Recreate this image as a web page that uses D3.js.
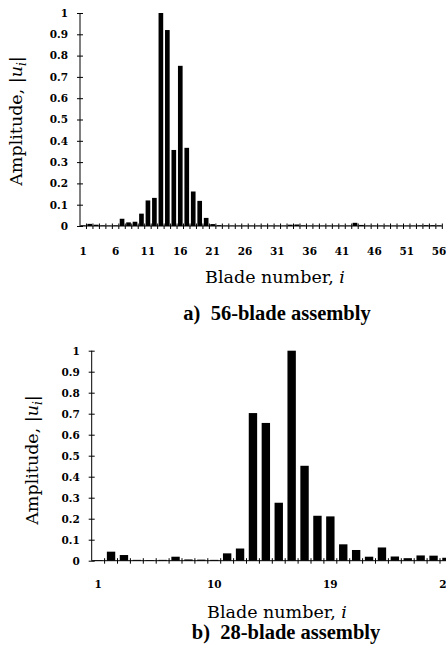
<!DOCTYPE html>
<html><head><meta charset="utf-8">
<script src="https://d3js.org/d3.v7.min.js"></script>
<style>
html,body{margin:0;padding:0;background:#fff;}
svg{display:block;}
.tick text{font-family:"DejaVu Serif",serif;font-weight:bold;font-size:10.5px;fill:#000;}
.ttl{font-family:"DejaVu Serif",serif;font-size:17.5px;fill:#000;}
.cap{font-family:"Liberation Serif","Times New Roman",serif;font-weight:bold;font-size:20.5px;fill:#000;}
</style></head>
<body>
<script>
// ---- data ----
const blades56 = d3.range(1, 57);
const amp56 = [0.003,0.010,0.006,0.003,0.002,0.003,0.034,0.017,0.020,0.058,
  0.120,0.132,1.000,0.920,0.357,0.752,0.367,0.162,0.118,0.038,
  0.009,0.004,0.002,0.002,0.002,0.002,0.002,0.002,0.002,0.002,
  0.002,0.002,0.006,0.007,0.003,0.002,0.002,0.002,0.002,0.002,
  0.002,0.002,0.015,0.005,0.002,0.002,0.002,0.002,0.002,0.002,
  0.002,0.002,0.003,0.004,0.004,0.003];
const xLabels56 = [1,6,11,16,21,26,31,36,41,46,51,56];

const blades28 = d3.range(1, 29);
const amp28 = [0.003,0.043,0.027,0.004,0.003,0.004,0.019,0.006,0.005,0.004,
  0.035,0.058,0.703,0.656,0.276,1.000,0.452,0.214,0.211,0.078,
  0.051,0.019,0.063,0.020,0.012,0.025,0.024,0.014];
const xLabels28 = [1,10,19,28];

const yTicks = [0,0.1,0.2,0.3,0.4,0.5,0.6,0.7,0.8,0.9,1];
const yTitle = "Amplitude, ";
const xTitle = "Blade number, ";
const captions = ["a)\u00a0 56-blade assembly", "b)\u00a0 28-blade assembly"];

const svg = d3.select("body").append("svg").attr("width",446).attr("height",652);

function panel(cfg){
  const g = svg.append("g");
  const x = d3.scaleBand().domain(cfg.blades).range([cfg.x0, cfg.x0 + cfg.blades.length*cfg.step])
    .paddingInner(cfg.pad).paddingOuter(cfg.pad/2);
  const y = d3.scaleLinear().domain([0,1]).range([cfg.y0, cfg.y1]);

  // bars
  g.selectAll("rect.bar").data(cfg.blades).join("rect")
    .attr("x", d => x(d)).attr("width", x.bandwidth())
    .attr("y", (d,i) => y(cfg.vals[i])).attr("height", (d,i) => cfg.y0 - y(cfg.vals[i]))
    .attr("fill","#000");

  // y axis
  const ya = g.append("g").attr("transform",`translate(${cfg.x0},0)`)
    .call(d3.axisLeft(y).tickValues(yTicks).tickSize(3).tickPadding(9).tickFormat(d => d===0?"0":d===1?"1":d3.format(".1f")(d)));
  ya.select(".domain").attr("d", `M0,${cfg.y0}V${cfg.y1}`).attr("stroke","#000");
  ya.selectAll(".tick line").attr("x1",3).attr("x2",-3).attr("stroke","#000");

  // x axis (labels)
  const xa = g.append("g").attr("transform",`translate(0,${cfg.y0})`)
    .call(d3.axisBottom(x).tickValues(cfg.labels).tickSize(0));
  xa.select(".domain").remove();
  xa.selectAll(".tick text").attr("dy",null).attr("y", cfg.labelBase - cfg.y0);
  // axis line + boundary ticks
  const xEnd = cfg.x0 + cfg.blades.length*cfg.step;
  g.append("line").attr("x1",cfg.x0).attr("x2",xEnd).attr("y1",cfg.y0).attr("y2",cfg.y0).attr("stroke","#000").attr("stroke-width",1);
  const bounds = cfg.blades.map(d => x(d) - x.step()*cfg.pad/2).concat([xEnd]).slice(1);
  g.selectAll("line.bt").data(bounds).join("line")
    .attr("x1",d=>d).attr("x2",d=>d).attr("y1",cfg.y0-2.5).attr("y2",cfg.y0+3)
    .attr("stroke","#000").attr("stroke-width",1);

  // titles
  const yt = g.append("text").attr("class","ttl").attr("text-anchor","middle")
    .attr("transform",`translate(${cfg.yTitleX},${cfg.yTitleY}) rotate(-90)`);
  yt.append("tspan").text(yTitle + "|");
  yt.append("tspan").attr("font-style","italic").text("u");
  yt.append("tspan").attr("font-style","italic").attr("font-size","12px").attr("dy",4).text("i");
  yt.append("tspan").attr("dy",-4).text("|");

  const xt = g.append("text").attr("class","ttl").attr("text-anchor","middle")
    .attr("x",cfg.xTitleX).attr("y",cfg.xTitleBase);
  xt.append("tspan").text(xTitle);
  xt.append("tspan").attr("font-style","italic").text("i");

  g.append("text").attr("class","cap").attr("text-anchor","middle")
    .attr("x",cfg.capX).attr("y",cfg.capBase).text(cfg.caption);
}

panel({blades:blades56, vals:amp56, labels:xLabels56, x0:80, step:6.47, pad:0.28,
  y0:226, y1:13, labelBase:255, yTitleX:22, yTitleY:121, xTitleX:275, xTitleBase:283,
  capX:277, capBase:320, caption:captions[0]});
panel({blades:blades28, vals:amp28, labels:xLabels28, x0:91.7, step:12.9, pad:0.35,
  y0:560.7, y1:350.7, labelBase:588, yTitleX:38, yTitleY:460, xTitleX:277, xTitleBase:618,
  capX:286, capBase:639, caption:captions[1]});
</script>
</body></html>
